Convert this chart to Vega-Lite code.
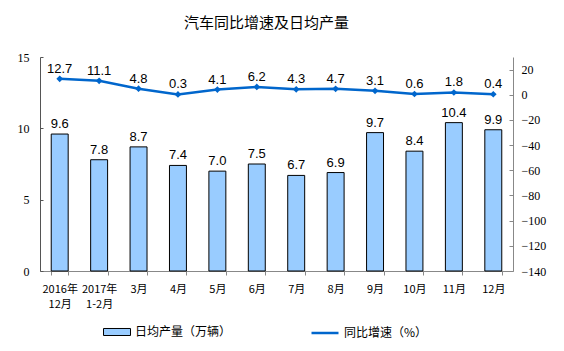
{
  "$schema": "https://vega.github.io/schema/vega-lite/v6.json",
  "width": 473,
  "height": 214,
  "autosize": {"type": "none"},
  "padding": {"left": 40, "top": 57, "right": 51, "bottom": 80},
  "background": "white",
  "title": {
    "text": "汽车同比增速及日均产量",
    "font": "Noto Sans CJK SC",
    "fontSize": 15,
    "fontWeight": "normal",
    "color": "black",
    "anchor": "middle",
    "dx": -10,
    "offset": 20
  },
  "data": {
    "values": [
      {"m": "2016年|12月", "prod": 9.6, "yoy": 12.7},
      {"m": "2017年|1-2月", "prod": 7.8, "yoy": 11.1},
      {"m": "3月", "prod": 8.7, "yoy": 4.8},
      {"m": "4月", "prod": 7.4, "yoy": 0.3},
      {"m": "5月", "prod": 7.0, "yoy": 4.1},
      {"m": "6月", "prod": 7.5, "yoy": 6.2},
      {"m": "7月", "prod": 6.7, "yoy": 4.3},
      {"m": "8月", "prod": 6.9, "yoy": 4.7},
      {"m": "9月", "prod": 9.7, "yoy": 3.1},
      {"m": "10月", "prod": 8.4, "yoy": 0.6},
      {"m": "11月", "prod": 10.4, "yoy": 1.8},
      {"m": "12月", "prod": 9.9, "yoy": 0.4}
    ]
  },
  "encoding": {
    "x": {
      "field": "m",
      "type": "nominal",
      "sort": null,
      "scale": {"paddingInner": 0.57, "paddingOuter": 0.285},
      "axis": {
        "title": null,
        "labelAngle": 0,
        "labelExpr": "split(datum.label, '|')",
        "labelFont": "Noto Sans CJK SC",
        "labelFontSize": 11,
        "labelColor": "black",
        "labelPadding": 8,
        "labelLineHeight": 15,
        "tickBand": "extent",
        "tickSize": 4,
        "tickColor": "#888888",
        "domainColor": "#888888"
      }
    }
  },
  "layer": [
    {
      "encoding": {
        "y": {
          "field": "prod",
          "type": "quantitative",
          "scale": {"domain": [0, 15], "nice": false},
          "axis": {
            "title": null,
            "values": [0, 5, 10, 15],
            "grid": false,
            "orient": "left",
            "labelFont": "Liberation Serif",
            "labelFontSize": 12,
            "labelColor": "black",
            "labelPadding": 14,
            "tickSize": -3,
            "tickColor": "#555555",
            "domainColor": "#555555"
          }
        }
      },
      "layer": [
        {
          "mark": {"type": "bar", "stroke": "black", "strokeWidth": 1},
          "encoding": {
            "fill": {
              "datum": "日均产量（万辆）",
              "type": "nominal",
              "scale": {"range": ["#99CCFF"]},
              "legend": {
                "title": null,
                "orient": "none",
                "legendX": 63,
                "legendY": 261,
                "symbolType": "M-1,-0.26H1V0.26H-1Z",
                "symbolSize": 729,
                "symbolStrokeColor": "black",
                "symbolStrokeWidth": 1,
                "labelFont": "Noto Sans CJK SC",
                "labelFontSize": 12,
                "labelColor": "black"
              }
            }
          }
        },
        {
          "mark": {"type": "text", "dy": -10, "font": "Liberation Sans", "fontSize": 13, "color": "black"},
          "encoding": {"text": {"field": "prod", "type": "quantitative", "format": ".1f"}}
        }
      ]
    },
    {
      "encoding": {
        "y": {
          "field": "yoy",
          "type": "quantitative",
          "scale": {"domain": [-140, 30], "nice": false},
          "axis": {
            "title": null,
            "orient": "right",
            "values": [-140, -120, -100, -80, -60, -40, -20, 0, 20],
            "grid": false,
            "labelFont": "Liberation Serif",
            "labelFontSize": 12,
            "labelColor": "black",
            "labelPadding": 12,
            "tickSize": -4,
            "tickColor": "#888888",
            "domainColor": "#888888"
          }
        }
      },
      "layer": [
        {
          "mark": {
            "type": "line",
            "strokeWidth": 2.5,
            "point": {"shape": "diamond", "filled": true, "size": 45}
          },
          "encoding": {
            "color": {
              "datum": "同比增速（%）",
              "type": "nominal",
              "scale": {"range": ["#0066CC"]},
              "legend": {
                "title": null,
                "orient": "none",
                "legendX": 270,
                "legendY": 261,
                "symbolType": "stroke",
                "symbolSize": 729,
                "symbolStrokeWidth": 2.5,
                "labelFont": "Noto Sans CJK SC",
                "labelFontSize": 12,
                "labelColor": "black"
              }
            }
          }
        },
        {
          "mark": {"type": "text", "dy": -10, "font": "Liberation Sans", "fontSize": 13, "color": "black"},
          "encoding": {"text": {"field": "yoy", "type": "quantitative", "format": ".1f"}}
        }
      ]
    }
  ],
  "resolve": {"scale": {"y": "independent"}},
  "config": {"view": {"stroke": null}}
}
